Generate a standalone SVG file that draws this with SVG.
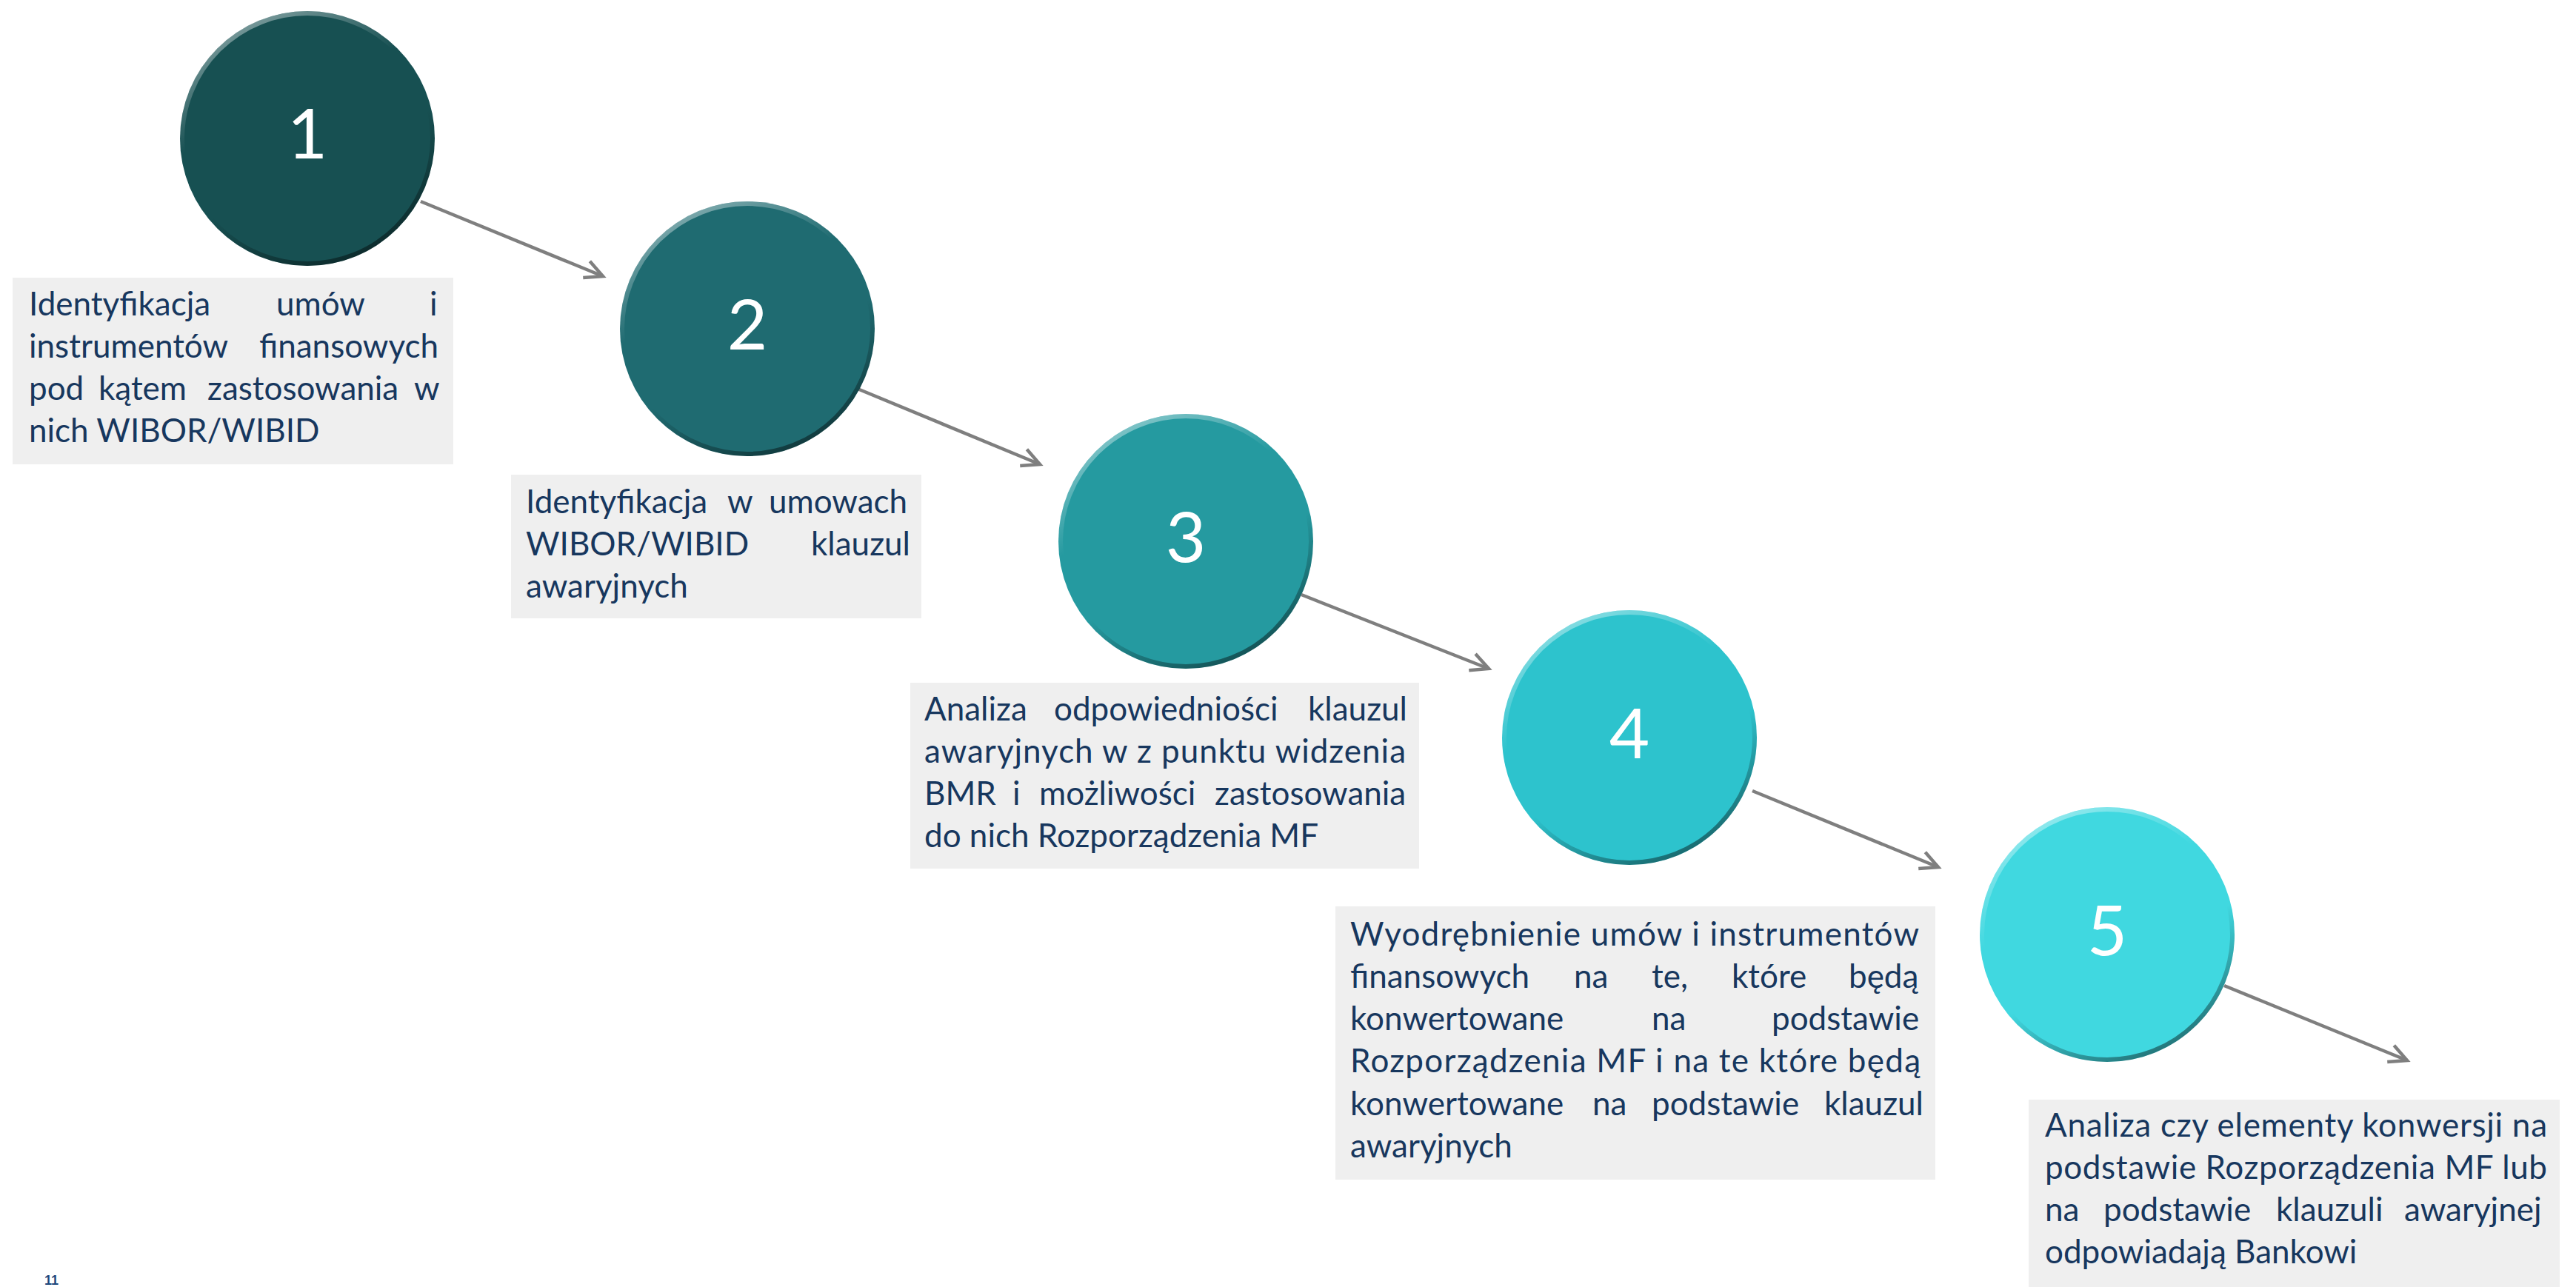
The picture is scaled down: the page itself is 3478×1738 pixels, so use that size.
<svg xmlns="http://www.w3.org/2000/svg" width="3478" height="1738" viewBox="0 0 3478 1738">
<style>
.bg{fill:#FFFFFF}
.box{fill:#EFEFEF}
.t{font-family:Lato,"Liberation Sans",sans-serif;font-size:44px;fill:#17375E}
.num{font-family:Lato,"Liberation Sans",sans-serif;font-size:94px;fill:#FFFFFF;text-anchor:middle}
.ring{fill:none;stroke:url(#bevel);stroke-width:6}
.conn line{stroke:#7F7F7F;stroke-width:4.5;marker-end:url(#arr)}
.pg{font-family:"Liberation Sans",Arial,sans-serif;font-size:18px;font-weight:bold;fill:#1F497D}
</style>
<defs>
<linearGradient id="bevel" x1="0.25" y1="0" x2="0.75" y2="1">
<stop offset="0" stop-color="#FFFFFF" stop-opacity="0.45"/>
<stop offset="0.35" stop-color="#FFFFFF" stop-opacity="0"/>
<stop offset="0.6" stop-color="#000000" stop-opacity="0"/>
<stop offset="1" stop-color="#000000" stop-opacity="0.5"/>
</linearGradient>
<marker id="arr" markerUnits="userSpaceOnUse" markerWidth="40" markerHeight="40" viewBox="-30 -20 40 40" refX="0" refY="0" orient="auto" overflow="visible">
<path d="M-24,-12 L0,0 L-24,12" fill="none" stroke="#7F7F7F" stroke-width="4.5"/>
</marker>
</defs>
<rect class="bg" x="0" y="0" width="3478" height="1738"/>

<g id="connectors" class="conn">
<line x1="568" y1="272" x2="814" y2="373"/>
<line x1="1153" y1="523" x2="1404" y2="627"/>
<line x1="1757" y1="803" x2="2010" y2="903"/>
<line x1="2366" y1="1068" x2="2617" y2="1171"/>
<line x1="3003" y1="1331" x2="3250" y2="1432"/>
</g>

<g id="step1">
<circle cx="415" cy="187" r="172" fill="#175052"/>
<circle class="ring" cx="415" cy="187" r="169"/>
<text class="num" x="415" y="214">1</text>
<rect class="box" x="17" y="375" width="595" height="252"/>
<text class="t" y="426"><tspan x="39">Identyfikacja</tspan><tspan x="373">umów</tspan><tspan x="580">i</tspan></text>
<text class="t" y="483"><tspan x="39">instrumentów</tspan><tspan x="350">finansowych</tspan></text>
<text class="t" y="540"><tspan x="39">pod</tspan><tspan x="133">kątem</tspan><tspan x="280">zastosowania</tspan><tspan x="559">w</tspan></text>
<text class="t" x="39" y="597">nich WIBOR/WIBID</text>
</g>

<g id="step2">
<circle cx="1009" cy="444" r="172" fill="#1F6B71"/>
<circle class="ring" cx="1009" cy="444" r="169"/>
<text class="num" x="1009" y="472">2</text>
<rect class="box" x="690" y="641" width="554" height="194"/>
<text class="t" y="693"><tspan x="710">Identyfikacja</tspan><tspan x="982">w</tspan><tspan x="1038">umowach</tspan></text>
<text class="t" y="750"><tspan x="710">WIBOR/WIBID</tspan><tspan x="1095">klauzul</tspan></text>
<text class="t" x="710" y="807">awaryjnych</text>
</g>

<g id="step3">
<circle cx="1601" cy="731" r="172" fill="#259AA0"/>
<circle class="ring" cx="1601" cy="731" r="169"/>
<text class="num" x="1601" y="759">3</text>
<rect class="box" x="1229" y="922" width="687" height="251"/>
<text class="t" y="973"><tspan x="1248">Analiza</tspan><tspan x="1423">odpowiedniości</tspan><tspan x="1766">klauzul</tspan></text>
<text class="t" x="1248" y="1030" textLength="650" lengthAdjust="spacing">awaryjnych w z punktu widzenia</text>
<text class="t" y="1087"><tspan x="1248">BMR</tspan><tspan x="1367">i</tspan><tspan x="1403">możliwości</tspan><tspan x="1640">zastosowania</tspan></text>
<text class="t" x="1248" y="1144">do nich Rozporządzenia MF</text>
</g>

<g id="step4">
<circle cx="2200" cy="996" r="172" fill="#2DC3CD"/>
<circle class="ring" cx="2200" cy="996" r="169"/>
<text class="num" x="2200" y="1024">4</text>
<rect class="box" x="1803" y="1224" width="810" height="369"/>
<text class="t" x="1823" y="1277" textLength="768" lengthAdjust="spacing">Wyodrębnienie umów i instrumentów</text>
<text class="t" y="1334"><tspan x="1823">finansowych</tspan><tspan x="2125">na</tspan><tspan x="2230">te,</tspan><tspan x="2338">które</tspan><tspan x="2496">będą</tspan></text>
<text class="t" y="1391"><tspan x="1823">konwertowane</tspan><tspan x="2230">na</tspan><tspan x="2392">podstawie</tspan></text>
<text class="t" x="1823" y="1448" textLength="770" lengthAdjust="spacing">Rozporządzenia MF i na te które będą</text>
<text class="t" y="1506"><tspan x="1823">konwertowane</tspan><tspan x="2150">na</tspan><tspan x="2230">podstawie</tspan><tspan x="2463">klauzul</tspan></text>
<text class="t" x="1823" y="1563">awaryjnych</text>
</g>

<g id="step5">
<circle cx="2845" cy="1262" r="172" fill="#40D8E0"/>
<circle class="ring" cx="2845" cy="1262" r="169"/>
<text class="num" x="2845" y="1290">5</text>
<rect class="box" x="2739" y="1485" width="717" height="253"/>
<text class="t" x="2761" y="1535" textLength="678" lengthAdjust="spacing">Analiza czy elementy konwersji na</text>
<text class="t" x="2761" y="1592" textLength="678" lengthAdjust="spacing">podstawie Rozporządzenia MF lub</text>
<text class="t" y="1649"><tspan x="2761">na</tspan><tspan x="2840">podstawie</tspan><tspan x="3073">klauzuli</tspan><tspan x="3246">awaryjnej</tspan></text>
<text class="t" x="2761" y="1706">odpowiadają Bankowi</text>
</g>

<text id="page-number" class="pg" x="60" y="1735">11</text>
</svg>
